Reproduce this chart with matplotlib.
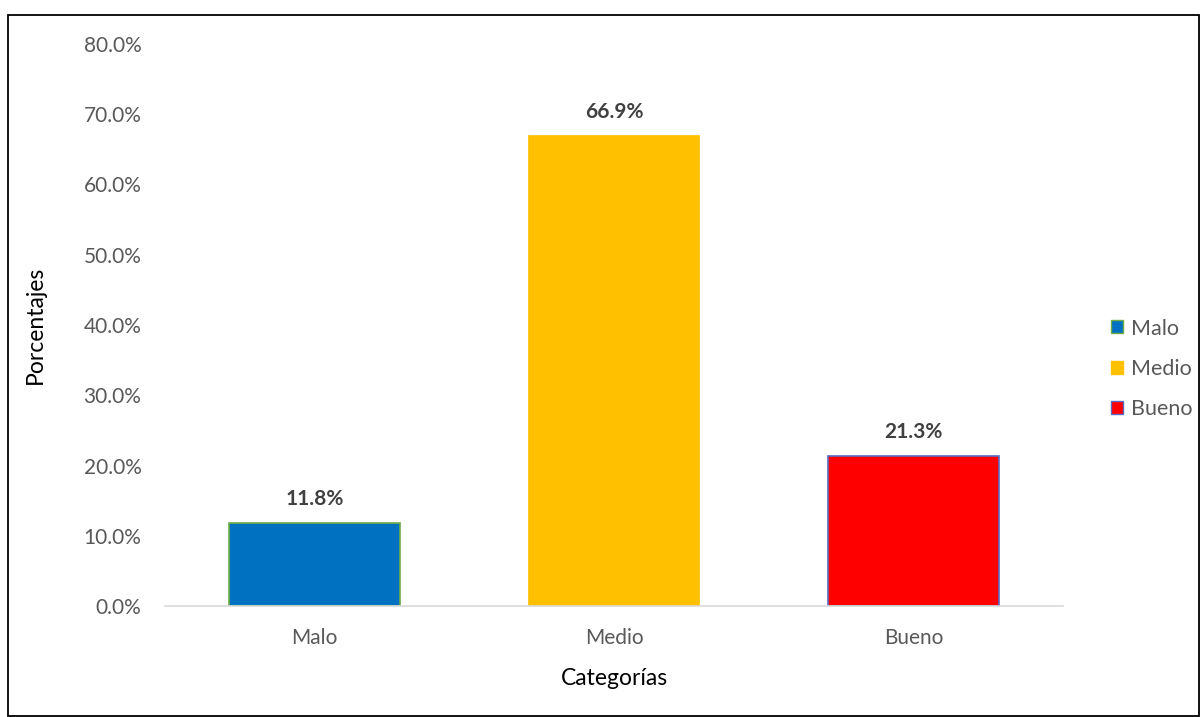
import matplotlib
matplotlib.use("Agg")
import matplotlib.pyplot as plt
from matplotlib.patches import Rectangle, Patch
from matplotlib.ticker import FuncFormatter

categories = ["Malo", "Medio", "Bueno"]
values = [11.8, 66.9, 21.3]
colors = ["#0070C0", "#FFC000", "#FF0000"]
edges = ["#70AD47", "#FFC000", "#5B6BC0"]
yticks = [0, 10, 20, 30, 40, 50, 60, 70, 80]

plt.rcParams['font.family'] = ['Lato', 'DejaVu Sans']

fig = plt.figure(figsize=(12.03, 7.17), dpi=100)
ax = fig.add_axes([165/1203, 1-606/717, (1063-165)/1203, (606-44)/717])

x = range(len(categories))
bars = ax.bar(x, values, width=0.57, color=colors, edgecolor=edges, linewidth=1.2)
for xi, v in zip(x, values):
    ax.text(xi, v + 2.0, f"{v:.1f}%", ha="center", va="bottom", fontsize=15,
            fontweight="bold", color="#404040")

ax.set_xlim(-0.5, 2.5)
ax.set_ylim(0, 80)
ax.set_yticks(yticks)
ax.yaxis.set_major_formatter(FuncFormatter(lambda v, p: f"{v:.1f}%"))
ax.set_xticks(list(x))
ax.set_xticklabels(categories)
ax.tick_params(axis="both", length=0, labelsize=15, colors="#595959")
ax.tick_params(axis="y", pad=17)
ax.tick_params(axis="x", pad=16)
for s in ["top", "right", "left"]:
    ax.spines[s].set_visible(False)
ax.spines["bottom"].set_color("#D9D9D9")
ax.spines["bottom"].set_linewidth(1.2)

ax.set_ylabel("Porcentajes", fontsize=16.5, color="black", labelpad=27)
ax.set_xlabel("Categorías", fontsize=16.5, color="black", labelpad=14)

handles = [Patch(facecolor=c, edgecolor=e, linewidth=1) for c, e in zip(colors, edges)]
leg = fig.legend(handles, categories, loc="center left", bbox_to_anchor=(1092/1203, 1-369/717),
                 frameon=False, fontsize=15.5, handlelength=0.56, handleheight=0.56,
                 handletextpad=0.35, labelspacing=0.95, labelcolor="#595959")

fig.patches.append(Rectangle((8/1203, 1/717), (1199-8)/1203, (716-15)/717,
                             transform=fig.transFigure, fill=False, edgecolor="black",
                             linewidth=1.3))

fig.savefig("out.png", dpi=100)
